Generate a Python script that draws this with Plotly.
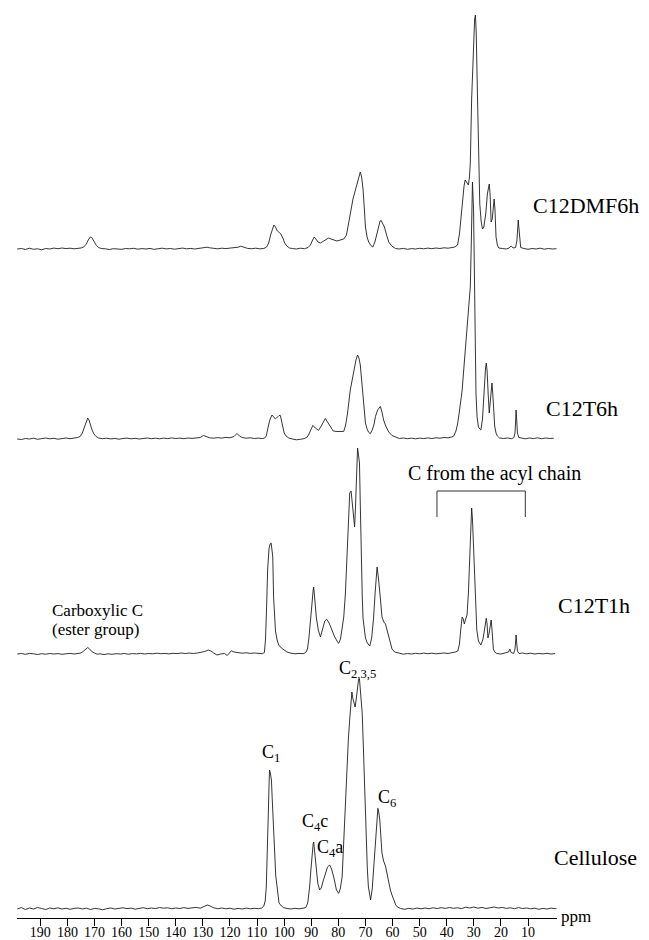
import plotly.graph_objects as go

# ---------------- data (ppm, intensity above own baseline) ----------------
dmf6h_pts = [
    (198.5,0),(197,0.5),(195.5,-0.5),(194,0.8),(192.5,-0.3),(191,0.2),(189.5,-0.8),(188,0.5),(186.5,0),(185,0.9),
    (183.5,0.3),(182,1),(180.5,0.4),(179,0.8),(177.5,0.2),(176,0.6),
    (175,1),(174,2),(173,5),(172.3,9),(171.5,12),(171,11.5),(170.5,9),(170,6),(169.3,3.5),(168.5,1.5),(167.5,0.5),
    (166,0.2),(164.5,-0.5),(163,0.3),(161.5,0),(160,-0.3),(158.5,0.5),(157,0.2),(155.5,0.7),(154,-0.2),(152.5,0.4),
    (151,0),(149.5,0.6),(148,-0.4),(146.5,0.3),(145,0.8),(143.5,0.1),(142,0.5),(140.5,-0.2),(139,0.4),(137.5,0.9),
    (136,0.2),(134.5,0.6),(133,0),(131.5,0.7),(130,0.9),(128.5,1.8),(127.5,1.2),(126,0.5),(124.5,0.2),(123,0.8),
    (121.5,0.4),(120,0.9),(118.5,1.2),(117,1.8),(116,2.8),(115,1.8),(113.5,0.6),(112,0.3),(110.5,0.8),(109,0.2),(107.5,0.5),
    (106.5,2),(105.7,6),(105,14),(104.3,21),(103.8,24),(103.2,22),(102.5,18),(101.8,16.5),(101.2,15),(100.5,11),
    (99.8,6),(99,3),(98,1),
    (97,0.5),(95.5,0),(94,0.8),(92.5,0.3),(91.2,1.5),
    (90.3,4),(89.5,9),(88.9,12),(88.3,10),(87.5,7),(86.6,6),(85.5,8),(84.5,10),(83.6,11),(82.7,10),(81.5,8.5),
    (80.5,8),(79.3,9),(78,10),(77,14),(76.2,24),(75.6,35),(74.6,50),(73.7,60),(72.8,70),(72.2,76),(71.9,77),
    (71.4,72),(70.9,60),(70.4,40),(70,22),(69.4,12),(68.8,7),(68,3.5),(67.3,2),(66.5,7),(65.8,15),(65.2,24),
    (64.6,28),(64.2,28.5),(63.5,25),(63,22),(62.2,14),(61.4,7),(60.3,3),(58.9,0.5),
    (57.5,0),(56,0.6),(54.5,-0.3),(53,0.4),(51.5,0),(50,0.7),(48.5,0.2),(47,0.9),(45.5,0.3),(44,1),(42.5,0.5),
    (41,1.2),(39.5,0.8),(38,1.5),(37,2),
    (36,4),(35.3,15),(34.6,35),(34.2,50),(33.6,63),(33.2,69),(32.6,66),(32,64),(31.6,72),(31.3,86),(30.8,150),
    (30.2,200),(29.7,230),(29.4,234),(29.1,215),(28.7,160),(28.4,110),(28.1,70),(27.8,45),(27.3,28),(26.8,20),
    (26.3,22),(25.6,35),(25,55),(24.5,64),(24.3,65),(24,55),(23.6,27),(23.2,30),(22.8,44),(22.5,50),(22.2,40),
    (21.8,12),(21.3,4),(20.8,1),
    (19.5,0.5),(18,0),(17,1),(16.2,3),(15.5,1),(14.6,1.5),(14.1,8),(13.8,20),(13.6,29),(13.4,22),(13.1,8),
    (12.7,1.5),(11.5,0.5),(10,-0.3),(8.5,0.5),(7,0),(5.5,0.8),(4,-0.2),(2.5,0.5),(1,0),(-0.5,0.3),
]

t6h_pts = [
    (198.5,0),(197,-0.5),(195.5,0.5),(194,0),(192.5,0.8),(191,-0.3),(189.5,0.4),(188,1),(186.5,0.2),(185,0.7),
    (183.5,-0.2),(182,0.5),(180.5,1),(179,0.3),(177.5,0.8),(176.3,1.5),
    (175.3,2.5),(174.5,6),(173.7,12),(173,18),(172.5,21),(172,19),(171.5,14),(170.9,9),(170.2,5),(169.4,2.5),(168.5,1),
    (167,0.3),(165.5,0.8),(164,0.1),(162.5,0.6),(161,-0.2),(159.5,0.5),(158,0.9),(156.5,0.2),(155,0.7),(153.5,0),
    (152,0.6),(150.5,1),(149,0.3),(147.5,0.8),(146,0.2),(144.5,0.9),(143,0.4),(141.5,1.1),(140,0.5),(138.5,0.9),
    (137,0.3),(135.5,1),(134,0.6),(132.5,1.2),(131,1.5),(129.8,3.5),(128.8,2.5),(127.5,1.2),(126,0.8),(124.5,1.4),
    (123,0.9),(121.5,1.6),(120,1.2),(118.5,2.5),(117.4,5.5),(116.5,3),(115.5,1.5),(114,0.8),(112.5,1.2),(111,0.5),
    (109.5,0.9),(108,0.4),
    (107.2,1),(106.6,3),(105.9,12),(105.3,19),(104.5,24),(103.8,22),(103.2,20),(102.8,21),(102.4,22),(101.9,23.5),
    (101.4,23.6),(101,19),(100.6,12),(100,6),(99.3,3),(98.3,1),
    (97,0),(95.5,-0.8),(94,-0.3),(92.5,0.5),(91.5,2),
    (91,4),(90.2,9),(89.4,13.6),(88.5,11),(87.3,8.6),(86.3,13),(85.5,18),(84.8,20.6),(84,17),(83.2,13.6),(82.5,10),
    (81.9,8),(80.5,7.5),(79,7.8),(78,7.6),(77.3,14),(76.6,26),(75.6,49),(74.9,60),(74.3,69),(73.5,79),(72.9,84),
    (72.4,81),(71.9,74),(71.4,58),(70.9,39),(70.4,25),(70,16),(69.4,10),(68.8,6.6),(68.2,5.3),(67.5,9),(66.8,15),
    (66.3,22.6),(65.5,29),(64.9,32),(64.5,32.6),(63.9,27),(63.3,19),(62.5,13),(61.4,7),(60.2,3.5),(58.9,2),
    (57.5,0.5),(56,1),(54.5,0.3),(53,0.8),(51.5,0.2),(50,0.9),(48.5,0.4),(47,1.1),(45.5,0.5),(44,1.2),(42.5,0.8),
    (41,1.5),(39.5,1.2),(38.2,2),
    (37.4,3),(36.6,8),(36,15),(35.4,26),(34.8,38),(34.3,49),(33.7,70),(33.1,92),(32.5,110),(32,126),(31.6,140),
    (31.3,152),(30.9,200),(30.5,257),(30.1,230),(29.8,150),(29.5,80),(29.2,45),(28.8,22),(28.3,12),(27.8,10),
    (27.4,9),(26.8,20),(26.2,50),(25.7,70),(25.4,76),(25.1,68),(24.7,45),(24.3,26),(23.9,38),(23.5,52),(23.3,56),
    (23,45),(22.6,25),(22.3,13),(21.8,6),(21.3,3),(20.5,1),
    (19,0.5),(17.5,1),(16,0.3),(15.2,1.5),(14.8,6),(14.5,22),(14.4,29),(14.2,20),(13.9,6),(13.4,1.5),(12.5,0.8),
    (11,0.2),(9.5,1),(8,0.4),(6.5,1.2),(5,0.3),(3.5,1),(2,0.5),(0.5,0.8),
]

t1h_pts = [
    (198.5,0),(197,0.5),(195.5,-0.3),(194,0.6),(192.5,0.2),(191,-0.5),(189.5,0.3),(188,-0.2),(186.5,0.5),(185,0),
    (183.5,0.4),(182,-0.3),(180.5,0.2),(179,0.6),(177.5,0),(176,0.5),
    (175,1),(174,3),(173,5.5),(172.5,6.5),(171.8,5),(171,2.5),(170,1),(169,-0.2),(168,0.2),
    (166.5,-0.5),(165,0.2),(163.5,-0.3),(162,0.3),(160.5,0),(159,0.5),(157.5,-0.2),(156,0.4),(154.5,0.1),(153,0.6),
    (151.5,0),(150,0.5),(148.5,0.2),(147,0.8),(145.5,0.3),(144,0.6),(142.5,0.1),(141,0.7),(139.5,0.4),(138,1),
    (136.5,0.5),(135,0.9),(133.5,0.5),(132,1),(130.5,1.5),(129.3,2.5),(128,4),(127,3),(126,1),(124.8,-1),(123.5,0),
    (122,0.5),(121,-1.5),(120,2.5),(119.5,3.3),(118.5,2),(117,1.5),(115.5,0.8),(114,1.2),(112.5,0.6),(111,1),
    (109.5,0.5),(108,0.3),
    (107.3,1.5),(106.9,14),(106.5,45),(106.1,84),(105.6,105),(105.2,110),(104.8,111),(104.5,105),(104.2,97),
    (103.9,57),(103.5,35),(103.2,23),(102.6,14),(102,9),(101,6),(100.2,4),(99,2),
    (97.5,0.8),(96,0.2),(94.5,0.6),(93,0.3),(92,1.5),
    (91.4,5),(90.9,15),(90.4,28),(89.8,48),(89.3,64),(89.1,67),(88.7,55),(88.1,36),(87.4,24),(86.6,17),(85.8,25),
    (85,33),(84.3,34.7),(83.6,32),(82.8,27),(82.4,24),(81.5,18),(80.5,13),(79.9,10.7),(79.2,15),(78.6,25),(78,37),
    (77.4,60),(76.8,97),(76.3,135),(75.8,161),(75.3,163),(74.9,152),(74.6,141),(74.3,132),(74,127),(73.7,145),
    (73.4,174),(73.1,198),(72.9,206),(72.6,200),(72.2,191),(71.9,150),(71.6,97),(71.2,60),(70.9,36),(70.5,24),
    (70,16),(69.3,11),(68.4,8),(67.7,16),(67,36),(66.4,62),(65.7,87),(65.2,76),(64.7,64),(64.3,50),(63.9,37),
    (63.2,32),(62.6,30),(62,24),(61.4,17),(60.8,10),(60.2,5),(59.2,2),
    (57.5,0.5),(56,-0.2),(54.5,0.5),(53,0),(51.5,0.7),(50,0.2),(48.5,0.9),(47,0.3),(45.5,0.8),(44,0.2),(42.5,0.6),
    (41,1),(39.5,0.5),(38,1.2),(36.8,2),
    (35.9,3),(35.3,10),(34.8,25),(34.3,37),(33.9,35),(33.5,30),(33.1,34),(32.5,39),(32,61),(31.6,85),(31.3,101),
    (31,130),(30.8,146),(30.5,135),(30.1,105),(29.7,84),(29.3,50),(28.9,24),(28.3,13),(27.4,9),(26.6,15),(26,28),
    (25.4,35.7),(25.1,30),(24.8,16),(24.4,20),(24,30),(23.6,34),(23.3,25),(22.8,5),(22.3,2),(21.5,0.5),
    (20,0),(18.5,0.8),(17.2,2),(16.7,5),(16.2,1.5),(15.3,0.5),(14.8,5),(14.5,15),(14.4,19),(14.2,12),(13.9,3),
    (13.3,0.5),(12,1),(10.5,0.2),(9,0.8),(7.5,0),(6,0.6),(4.5,0.1),(3,0.7),(1.5,0),(0,0.4),
]

cellulose_pts = [
    (198.5,0),(197,1.5),(195.5,-0.5),(194,1),(192.5,0),(191,1.5),(189.5,0.5),(188,-0.5),(186.5,1),(185,0.2),
    (183.5,1.2),(182,0),(180.5,0.8),(179,-0.3),(177.5,0.6),(176,1),(174.5,0),(173,0.8),(171.5,-0.5),(170,0.5),
    (168.5,0.2),(167,-0.8),(165.5,0.3),(164,1),(162.5,0),(161,0.7),(159.5,1.2),(158,0.4),(156.5,0.9),(155,-0.2),
    (153.5,0.5),(152,1.3),(150.5,0.3),(149,1),(147.5,0.4),(146,1.5),(144.5,0.8),(143,1.2),(141.5,0.3),(140,1),
    (138.5,0.5),(137,1.4),(135.5,0.6),(134,1),(132.5,1.6),(131,0.8),(129.5,2.2),(128.3,4),(127.3,3),(126,1.2),
    (124.5,0.3),(123,1),(121.5,0.2),(120,0.8),(118.5,-0.2),(117,0.6),(115.5,0),(114,0.9),(112.5,0.2),(111,0.7),
    (109.5,0.3),(108.3,1),
    (107.5,3),(107,8),(106.6,22),(106.3,45),(106,69),(105.8,100),(105.6,122),(105.4,139),(105.1,136),(104.7,129),
    (104.4,110),(104.1,89),(103.8,68),(103.5,49),(103.1,33),(102.6,22),(102.2,12),(101.9,6),(101,3),(100.3,1.5),
    (99,0.5),(97.5,0),(96,0.7),(94.5,0.2),(93,0.8),(92,1.5),
    (91.3,6),(90.6,22),(90.1,40),(89.7,56),(89.3,65),(89.1,67),(88.8,60),(88.5,49),(88,36),(87.6,26),(86.9,19),
    (86.3,21),(85.6,28),(84.8,36),(84,42),(83.2,44),(82.5,40),(81.7,32),(80.7,19),(79.9,15.7),(79.3,20),(78.6,32),
    (78.2,55),(77.8,89),(77.3,120),(76.8,149),(76.3,170),(75.8,190),(75.4,210),(75,217),(74.6,210),(74.2,204),
    (73.8,202),(73.4,210),(73,222),(72.6,228),(72.2,230),(71.9,222),(71.5,210),(71.2,196),(70.8,165),(70.4,129),
    (70,95),(69.7,62),(69.3,40),(68.9,22),(68.5,13),(68.1,9),(67.5,20),(67,39),(66.5,62),(66.1,82),(65.7,95),
    (65.4,100.7),(65.1,97),(64.7,89),(64.3,72),(63.9,56),(63.3,48),(62.6,43),(62,35),(61.4,26),(60.8,19),
    (60.2,14),(59.5,8),(58.8,4),(58.2,2),
    (57,0.5),(55.5,-0.3),(54,0.6),(52.5,0),(51,0.9),(49.5,0.2),(48,1),(46.5,0.3),(45,1.2),(43.5,0.5),(42,1.3),
    (40.5,0.6),(39,1.5),(37.5,0.7),(36,1.2),(34.5,0.4),(33,1.8),(31.5,1),(30,2),(28.5,0.8),(27,1.6),(25.5,0.5),
    (24,1.4),(22.5,2),(21,1),(19.5,1.6),(18,0.6),(16.5,1.2),(15,0.3),(13.5,1.4),(12,0.5),(10.5,1),(9,0.2),
    (7.5,0.8),(6,-0.3),(4.5,0.6),(3,0),(1.5,0.9),(0,0.3),(-0.5,0.5),
]

sample_names = ["C12DMF6h", "C12T6h", "C12T1h", "Cellulose"]
tick_values = [190, 180, 170, 160, 150, 140, 130, 120, 110, 100, 90, 80, 70, 60, 50, 40, 30, 20, 10]

# ---------------- layout constants ----------------
offsets = {"C12DMF6h": 669, "C12T6h": 479, "C12T1h": 264, "Cellulose": 9}
series = {"C12DMF6h": dmf6h_pts, "C12T6h": t6h_pts, "C12T1h": t1h_pts, "Cellulose": cellulose_pts}
# label positions: (paper x, data y)
label_pos = {"C12DMF6h": (0.952, 713), "C12T6h": (0.976, 510), "C12T1h": (0.998, 313), "Cellulose": (0.99, 61)}

SERIF = "Liberation Serif"
fig = go.Figure()
for name in sample_names:
    pts = series[name]
    xs = [p[0] for p in pts]
    ys = [p[1] + offsets[name] for p in pts]
    fig.add_trace(go.Scatter(x=xs, y=ys, mode="lines",
                             line=dict(color="#1e1e1e", width=0.9),
                             showlegend=False, hoverinfo="skip"))

ann = []
for name in sample_names:
    lx, ly = label_pos[name]
    ann.append(dict(x=lx, y=ly, xref="paper", yref="y", text=name, xanchor="left", yanchor="middle",
                    showarrow=False, font=dict(family=SERIF, size=22, color="black")))

small = dict(family=SERIF, size=18, color="black")
ann += [
    dict(x=104.7, y=165, text="C<sub>1</sub>", showarrow=False, font=small),
    dict(x=88.5, y=96, text="C<sub>4</sub>c", showarrow=False, font=small),
    dict(x=82.9, y=70, text="C<sub>4</sub>a", showarrow=False, font=small),
    dict(x=61.9, y=120, text="C<sub>6</sub>", showarrow=False, font=small),
    dict(x=73.0, y=249, text="C<sub>2,3,5</sub>", showarrow=False, font=small),
    dict(x=186.3, y=308, text="Carboxylic C", xanchor="left", showarrow=False,
         font=dict(family=SERIF, size=17, color="black")),
    dict(x=186.3, y=289, text="(ester group)", xanchor="left", showarrow=False,
         font=dict(family=SERIF, size=17, color="black")),
    dict(x=22.4, y=445, text="C from the acyl chain", showarrow=False,
         font=dict(family=SERIF, size=20, color="black")),
    dict(x=1.035, y=2, xref="paper", yref="y", xanchor="center", yanchor="middle", text="ppm", showarrow=False,
         font=dict(family=SERIF, size=17, color="black")),
]

shapes = [
    dict(type="line", xref="x", yref="y", x0=43.6, x1=11.0, y0=427, y1=427, line=dict(color="#333", width=1)),
    dict(type="line", xref="x", yref="y", x0=43.6, x1=43.6, y0=427, y1=401, line=dict(color="#333", width=1)),
    dict(type="line", xref="x", yref="y", x0=11.0, x1=11.0, y0=427, y1=401, line=dict(color="#333", width=1)),
]

fig.update_layout(
    width=649, height=940,
    margin=dict(l=17, r=92, t=0, b=22),
    paper_bgcolor="white", plot_bgcolor="white",
    font=dict(family=SERIF, color="black"),
    annotations=ann, shapes=shapes,
    xaxis=dict(range=[198.6, -0.7], tickvals=tick_values, ticks="outside", ticklen=7,
               tickcolor="black", showline=True, linecolor="black", linewidth=1,
               showgrid=False, zeroline=False, automargin=False, ticklabelstandoff=-6,
               tickfont=dict(family=SERIF, size=14, color="black")),
    yaxis=dict(range=[0, 918], visible=False, showgrid=False, zeroline=False),
)

fig.write_html("out.html")
